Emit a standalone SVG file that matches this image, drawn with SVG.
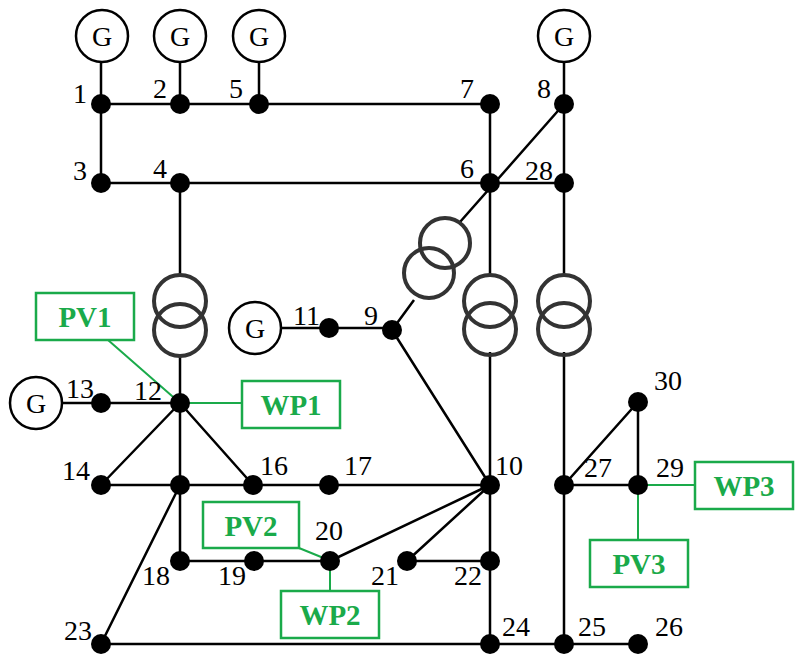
<svg xmlns="http://www.w3.org/2000/svg" width="801" height="669" viewBox="0 0 801 669">
<style>
.l{stroke:#000;stroke-width:2.5;fill:none}
.g{stroke:#1aaa4a;stroke-width:2;fill:none}
.b{fill:#000}
.gen{stroke:#000;stroke-width:2.5;fill:#fff}
.tr{stroke:#333;stroke-width:4;fill:none}
.t{font-family:'Liberation Serif','Times New Roman','DejaVu Serif',serif;font-size:28px;fill:#000}
.gt{font-family:'Liberation Serif','Times New Roman','DejaVu Serif',serif;font-size:28px;fill:#000;text-anchor:middle}
.box{stroke:#1aaa4a;stroke-width:2.5;fill:#fff}
.bt{font-family:'Liberation Serif','Times New Roman','DejaVu Serif',serif;font-size:29px;font-weight:bold;fill:#1aaa4a;text-anchor:middle}
</style>
<g id="connectors">
<path class="l" d="M101,104H490V183M101,104V183H564M101,62V104M180,62V104M259,62V104M564,62V183M180,183V275M180,357V403M490,183V275M490,352V644M564,183V275M564,352V644M564,104L460,222M414,300L392,330M392,330L490,485M282,328H392M62,403H180M180,403V561H254M180,403L101,485M180,403L253,485M101,485H490M180,485L101,644H564H638M330,561H254M330,561L490,485M407,561L490,485M407,561H490M564,485H638V402Z"/>
<path class="g" d="M108,340L180,403M180,403H242M299,548L326,559M330,568V591M638,485V540M638,485H695"/>
</g>
<g id="transformers">
<circle class="tr" cx="180" cy="301" r="26"/><circle class="tr" cx="180" cy="330" r="26"/>
<circle class="tr" cx="490" cy="301" r="26"/><circle class="tr" cx="490" cy="329" r="26"/>
<circle class="tr" cx="564" cy="301" r="26"/><circle class="tr" cx="564" cy="329" r="26"/>
<circle class="tr" cx="445" cy="243" r="25"/><circle class="tr" cx="429" cy="273" r="25"/>
</g>
<g id="generators">
<circle class="gen" cx="102" cy="36" r="26"/><text class="gt" x="102" y="46">G</text>
<circle class="gen" cx="180" cy="36" r="26"/><text class="gt" x="180" y="46">G</text>
<circle class="gen" cx="259" cy="36" r="26"/><text class="gt" x="259" y="46">G</text>
<circle class="gen" cx="564" cy="36" r="26"/><text class="gt" x="564" y="46">G</text>
<circle class="gen" cx="255" cy="328" r="26"/><text class="gt" x="255" y="338">G</text>
<circle class="gen" cx="36" cy="403" r="26"/><text class="gt" x="36" y="413">G</text>
</g>
<g id="buses">
<circle class="b" cx="101" cy="104" r="10"/><circle class="b" cx="180" cy="104" r="10"/><circle class="b" cx="259" cy="104" r="10"/><circle class="b" cx="490" cy="104" r="10"/><circle class="b" cx="564" cy="104" r="10"/>
<circle class="b" cx="101" cy="183" r="10"/><circle class="b" cx="180" cy="183" r="10"/><circle class="b" cx="490" cy="183" r="10"/><circle class="b" cx="564" cy="183" r="10"/>
<circle class="b" cx="329" cy="328" r="10"/><circle class="b" cx="392" cy="330" r="10"/>
<circle class="b" cx="101" cy="403" r="10"/><circle class="b" cx="180" cy="403" r="10"/>
<circle class="b" cx="101" cy="485" r="10"/><circle class="b" cx="180" cy="485" r="10"/><circle class="b" cx="253" cy="485" r="10"/><circle class="b" cx="329" cy="485" r="10"/><circle class="b" cx="490" cy="485" r="10"/>
<circle class="b" cx="180" cy="561" r="10"/><circle class="b" cx="254" cy="561" r="10"/><circle class="b" cx="330" cy="561" r="10"/><circle class="b" cx="407" cy="561" r="10"/><circle class="b" cx="490" cy="561" r="10"/>
<circle class="b" cx="101" cy="644" r="10"/><circle class="b" cx="490" cy="644" r="10"/><circle class="b" cx="564" cy="644" r="10"/><circle class="b" cx="638" cy="644" r="10"/>
<circle class="b" cx="564" cy="485" r="10"/><circle class="b" cx="638" cy="485" r="10"/><circle class="b" cx="638" cy="402" r="10"/>
</g>
<g id="labels">
<text class="t" x="73" y="103">1</text><text class="t" x="153" y="98">2</text><text class="t" x="229" y="98">5</text><text class="t" x="460" y="98">7</text><text class="t" x="537" y="98">8</text>
<text class="t" x="73" y="180">3</text><text class="t" x="153" y="178">4</text><text class="t" x="460" y="178">6</text><text class="t" x="525" y="180">28</text>
<text class="t" x="293" y="325">11</text><text class="t" x="364" y="325">9</text>
<text class="t" x="66" y="398">13</text><text class="t" x="134" y="400">12</text>
<text class="t" x="62" y="480">14</text><text class="t" x="260" y="475">16</text><text class="t" x="344" y="475">17</text><text class="t" x="495" y="475">10</text>
<text class="t" x="315" y="540">20</text><text class="t" x="142" y="585">18</text><text class="t" x="218" y="585">19</text><text class="t" x="371" y="585">21</text><text class="t" x="454" y="585">22</text>
<text class="t" x="64" y="640">23</text><text class="t" x="502" y="636">24</text><text class="t" x="578" y="636">25</text><text class="t" x="655" y="636">26</text>
<text class="t" x="584" y="477">27</text><text class="t" x="656" y="477">29</text><text class="t" x="654" y="390">30</text>
</g>
<g id="PV1"><rect class="box" x="36" y="293" width="98" height="47"/><text class="bt" x="85" y="327">PV1</text></g>
<g id="WP1"><rect class="box" x="242" y="381" width="98" height="47"/><text class="bt" x="291" y="415">WP1</text></g>
<g id="PV2"><rect class="box" x="203" y="502" width="96" height="46"/><text class="bt" x="251" y="536">PV2</text></g>
<g id="WP2"><rect class="box" x="281" y="591" width="98" height="47"/><text class="bt" x="330" y="625">WP2</text></g>
<g id="PV3"><rect class="box" x="590" y="540" width="98" height="47"/><text class="bt" x="639" y="574">PV3</text></g>
<g id="WP3"><rect class="box" x="695" y="462" width="98" height="47"/><text class="bt" x="744" y="496">WP3</text></g>
</svg>
